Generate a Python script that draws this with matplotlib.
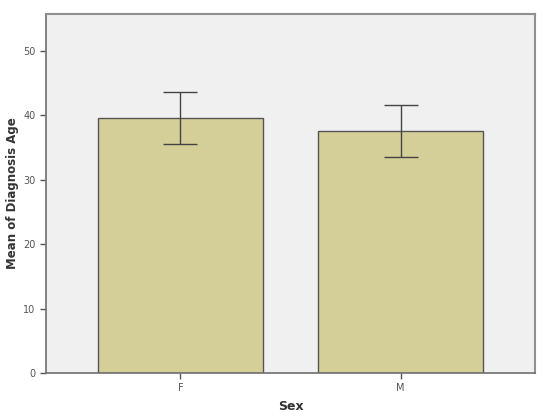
import matplotlib.pyplot as plt
import numpy as np

# data
sexes = ['F', 'M']
mean_age = [39.6, 37.55]
err_age = [4.0, 4.05]

fig = plt.figure(figsize=(5.5, 4.17), dpi=100)
ax = fig.add_axes([0.0836, 0.1055, 0.889, 0.861])
ax.set_facecolor('#f0f0f0')

x = np.arange(len(sexes))
ax.bar(x, mean_age, width=0.75, color='#d4cf98', edgecolor='#555555', linewidth=1.0, zorder=2)
ax.errorbar(x, mean_age, yerr=err_age, fmt='none', ecolor='#444444', elinewidth=1.0,
            capsize=12, capthick=1.0, zorder=3)

ax.set_xlim(-0.61, 1.61)
ax.set_ylim(0, 55.7)
ax.set_xticks(x)
ax.set_xticklabels(sexes)
ax.set_yticks([0, 10, 20, 30, 40, 50])

for s in ['top', 'right']:
    ax.spines[s].set_color('#909090')
    ax.spines[s].set_linewidth(1.5)
for s in ['left', 'bottom']:
    ax.spines[s].set_color('#707070')
    ax.spines[s].set_linewidth(1.2)

ax.tick_params(axis='both', labelsize=7, colors='#555555', length=4, width=1)

ax.set_xlabel('Sex', fontsize=9, fontweight='bold', color='#333333', labelpad=5)
ax.set_ylabel('Mean of Diagnosis Age', fontsize=8.5, fontweight='bold', color='#333333', labelpad=3)

fig.savefig('out.png', dpi=100)
